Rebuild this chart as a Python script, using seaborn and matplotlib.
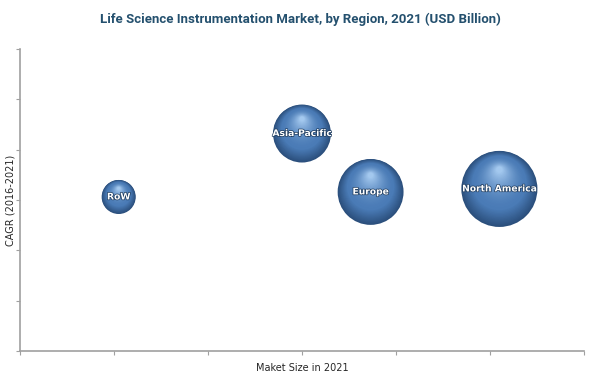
import numpy as np
import pandas as pd
import seaborn as sns
import matplotlib.pyplot as plt
import matplotlib.transforms as mtransforms
import matplotlib.patheffects as pe
from matplotlib.colors import to_rgb

regions = ['RoW', 'Asia-Pacific', 'Europe', 'North America']
market_size = [1.05, 3.0, 3.73, 5.1]      # position on x axis (market size in 2021)
cagr = [3.06, 4.32, 3.16, 3.22]           # position on y axis
bubble_value = [2.0, 5.8, 7.5, 10.0]      # USD Billion, drives bubble size

df = pd.DataFrame({'Region': regions, 'Size': market_size,
                   'CAGR': cagr, 'Value': bubble_value})

sns.set_style('white')
plt.rcParams['font.family'] = ['DejaVu Sans']

fig = plt.figure(figsize=(6, 3.76), dpi=100)
ax = fig.add_axes([0.0333, 0.0665, 0.94, 0.8032])

size_range = (600, 3000)
sns.scatterplot(data=df, x='Size', y='CAGR', size='Value', sizes=size_range,
                size_norm=(2.0, 10.0), color='#2b4f7c', edgecolor='none',
                legend=False, ax=ax, zorder=3)

# fake sphere shading: stacked circles getting lighter and shifting upward
areas = size_range[0] + (df['Value'] - 2.0) / 8.0 * (size_range[1] - size_range[0])
dark = np.array(to_rgb('#2b4f7c'))
mid = np.array(to_rgb('#4a7bb6'))
light = np.array(to_rgb('#a9cdf2'))
n = 40
for k in range(1, n):
    f = k / n
    frac = 1 - 0.94 * f
    if f < 0.3:
        col = dark + (mid - dark) * (f / 0.3)
    else:
        col = mid + (light - mid) * ((f - 0.3) / 0.7) ** 1.8
    for x, y, a in zip(df['Size'], df['CAGR'], areas):
        r_pt = np.sqrt(a) / 2
        shift = mtransforms.ScaledTranslation(0, (1 - frac) * r_pt * 0.55 / 72, fig.dpi_scale_trans)
        ax.scatter([x], [y], s=a * frac ** 2, color=col, edgecolor='none',
                   transform=ax.transData + shift, zorder=3 + f)

for x, y, name in zip(df['Size'], df['CAGR'], df['Region']):
    ax.text(x, y, name, color='white', fontsize=6.6, fontweight='bold',
            ha='center', va='center', zorder=10,
            path_effects=[pe.withStroke(linewidth=1.0, foreground='#1d3a5c')])

ax.set_xlim(0, 6)
ax.set_ylim(0, 6)
ax.set_xticks(range(7))
ax.set_yticks(range(7))
ax.set_xticklabels([])
ax.set_yticklabels([])
ax.tick_params(direction='out', length=3, width=0.8, color='#a0a0a0', bottom=True, left=True)
for side in ['top', 'right']:
    ax.spines[side].set_visible(False)
for side in ['left', 'bottom']:
    ax.spines[side].set_color('#a0a0a0')
    ax.spines[side].set_linewidth(1.2)

ax.set_xlabel('Maket Size in 2021', fontsize=7, labelpad=2)
ax.set_ylabel('CAGR (2016-2021)', fontsize=7)
ax.yaxis.set_label_coords(-0.008, 0.5)
fig.suptitle('Life Science Instrumentation Market, by Region, 2021 (USD Billion)',
             x=0.5, y=0.965, fontsize=9.5, fontweight='bold', color='#24506e',
             family=['Roboto', 'DejaVu Sans'])

fig.savefig('out.png', dpi=100)
